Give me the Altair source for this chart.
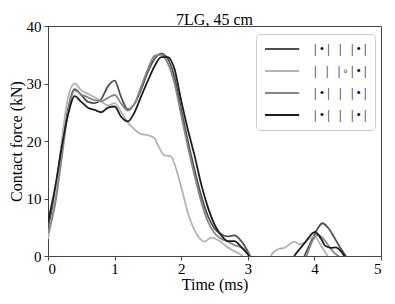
import altair as alt
import pandas as pd

S = "\u00a0"
series_keys = ["a", "b", "c", "d"]
series_labels = [
    f"|{S}•{S}|{S}{S}{S}|{S}{S}{S}|{S}•{S}|",
    f"|{S}{S}{S}|{S}{S}{S}|{S}◦{S}|{S}•{S}|",
    f"|{S}•{S}|{S}{S}{S}|{S}{S}{S}|{S}•{S}|",
    f"|{S}•{S}|{S}{S}{S}|{S}{S}{S}|{S}•{S}|",
]
series_colors = ["#505050", "#b4b4b4", "#868686", "#1e1e1e"]

t_a = [0.0, 0.1, 0.2, 0.3, 0.4, 0.5, 0.6, 0.7, 0.8, 0.9, 1.0, 1.1, 1.2, 1.3, 1.4, 1.5, 1.6, 1.7, 1.8, 1.9, 2.0,
       2.1, 2.2, 2.3, 2.4, 2.5, 2.6, 2.7, 2.8, 2.9, 3.0, 3.1, 3.3, 3.7, 3.85, 3.95, 4.05, 4.12, 4.2, 4.3, 4.4, 4.47, 4.55]
y_a = [5.0, 10.5, 18.5, 25.5, 29.0, 28.0, 26.8, 26.6, 27.3, 29.5, 30.5, 27.6, 25.5, 26.5, 29.0, 32.0, 34.3, 35.2, 34.3, 31.0, 25.5,
       20.0, 15.0, 10.5, 7.0, 4.8, 3.8, 3.4, 3.6, 2.6, 0.8, -1.5, -4.0, -4.0, 0.0, 2.5, 4.8, 5.7, 5.0, 3.2, 1.2, 0.0, -1.5]

t_b = [0.0, 0.1, 0.2, 0.3, 0.4, 0.5, 0.6, 0.7, 0.8, 0.9, 1.0, 1.1, 1.2, 1.3, 1.4, 1.5, 1.6, 1.65, 1.75, 1.85, 1.9, 2.0,
       2.1, 2.2, 2.3, 2.35, 2.45, 2.55, 2.7, 2.8, 2.9, 3.0, 3.1, 3.3, 3.36, 3.46, 3.55, 3.7, 3.78, 3.9, 4.0, 4.1, 4.2, 4.3]
y_b = [3.0, 9.5, 19.5, 27.5, 30.0, 28.8, 28.2, 27.6, 26.9, 26.2, 26.6, 25.0, 23.2, 22.0, 21.2, 21.0, 20.5, 19.3, 17.5, 17.3, 16.0, 12.0,
       7.5, 4.5, 2.8, 2.5, 3.2, 2.8, 1.5, 0.8, 0.2, -1.0, -2.5, -2.0, 0.3, 1.2, 1.4, 2.5, 2.0, 2.8, 3.4, 1.8, 0.0, -1.5]

t_c = [0.0, 0.1, 0.2, 0.3, 0.4, 0.5, 0.6, 0.7, 0.8, 0.9, 1.0, 1.1, 1.2, 1.3, 1.4, 1.5, 1.6, 1.7, 1.8, 1.9, 2.0,
       2.1, 2.2, 2.3, 2.4, 2.5, 2.6, 2.7, 2.8, 2.9, 3.0, 3.1, 3.3, 3.7, 3.88, 3.97, 4.04, 4.1, 4.2, 4.3, 4.36, 4.45]
y_c = [4.0, 8.5, 16.5, 25.0, 28.8, 28.1, 27.6, 27.1, 26.9, 27.5, 28.0, 26.5, 25.3, 26.5, 29.5, 32.5, 34.8, 35.0, 33.5, 30.0, 24.5,
       19.0, 14.0, 9.5, 6.0, 4.0, 3.0, 2.5, 1.9, 1.5, 0.5, -1.5, -4.0, -4.0, 0.0, 2.6, 3.7, 3.4, 2.0, 0.5, 0.0, -1.5]

t_d = [0.0, 0.1, 0.2, 0.3, 0.4, 0.5, 0.6, 0.7, 0.8, 0.9, 1.0, 1.1, 1.2, 1.3, 1.4, 1.5, 1.6, 1.7, 1.8, 1.9, 2.0,
       2.1, 2.2, 2.3, 2.4, 2.5, 2.6, 2.7, 2.8, 2.9, 3.0, 3.1, 3.3, 3.55, 3.71, 3.85, 4.01, 4.1, 4.16, 4.25, 4.32, 4.4, 4.45, 4.55]
y_d = [6.0, 11.5, 18.5, 24.5, 27.8, 26.8, 25.8, 25.4, 25.0, 25.8, 26.0, 24.2, 23.4, 25.0, 27.8, 30.5, 33.0, 34.6, 34.6, 32.5, 27.0,
       22.0, 17.5, 12.5, 8.5, 5.5, 3.6, 2.6, 2.6, 1.6, 0.3, -1.5, -4.0, -3.0, 0.2, 2.2, 4.2, 3.0, 1.8, 1.4, 1.5, 0.8, 0.0, -1.5]

rows = []
for key, ts, ys in zip(series_keys, [t_a, t_b, t_c, t_d], [y_a, y_b, y_c, y_d]):
    for t, y in zip(ts, ys):
        rows.append({"series": key, "t": t, "f": y})
df = pd.DataFrame(rows)

label_expr = " : ".join(
    [f"datum.value == '{k}' ? '{l}'" for k, l in zip(series_keys, series_labels)]
) + " : ''"

serif = "Liberation Serif"

chart = alt.Chart(df).mark_line(strokeWidth=1.8, clip=True, interpolate="monotone").encode(
    x=alt.X("t:Q", scale=alt.Scale(domain=[0, 5], nice=False),
            axis=alt.Axis(title="Time (ms)", values=[0, 1, 2, 3, 4, 5], format="d", grid=False,
                          labelPadding=1, titlePadding=0)),
    y=alt.Y("f:Q", scale=alt.Scale(domain=[0, 40], nice=False),
            axis=alt.Axis(title="Contact force (kN)", values=[0, 10, 20, 30, 40], grid=False,
                          titlePadding=2)),
    color=alt.Color("series:N",
                    scale=alt.Scale(domain=series_keys, range=series_colors),
                    legend=alt.Legend(title=None, orient="none", legendX=208, legendY=8,
                                      labelExpr=label_expr,
                                      symbolType="M-1,0H4.7", symbolSize=144, symbolStrokeWidth=2,
                                      labelFont=serif, labelFontSize=12.5, labelColor="black",
                                      strokeColor="#cccccc", fillColor="white", cornerRadius=4,
                                      padding=8, rowPadding=8, labelOffset=36)),
    order=alt.Order("t:Q"),
).properties(
    width=333, height=230,
    title=alt.TitleParams("7LG, 45 cm", font=serif, fontSize=16, fontWeight="normal", color="black", offset=-9),
    autosize=alt.AutoSizeParams(type="none"),
    padding={"left": 40, "top": 18, "right": 6, "bottom": 40},
).configure_axis(
    labelFont=serif, labelFontSize=15, labelColor="black",
    titleFont=serif, titleFontSize=16, titleFontWeight="normal", titleColor="black",
    domainColor="#444444", tickColor="#444444", tickSize=4, labelPadding=3,
).configure_view(stroke="#444444", strokeWidth=1)

chart.save("out.html", embed_options={"renderer": "svg", "actions": False})
